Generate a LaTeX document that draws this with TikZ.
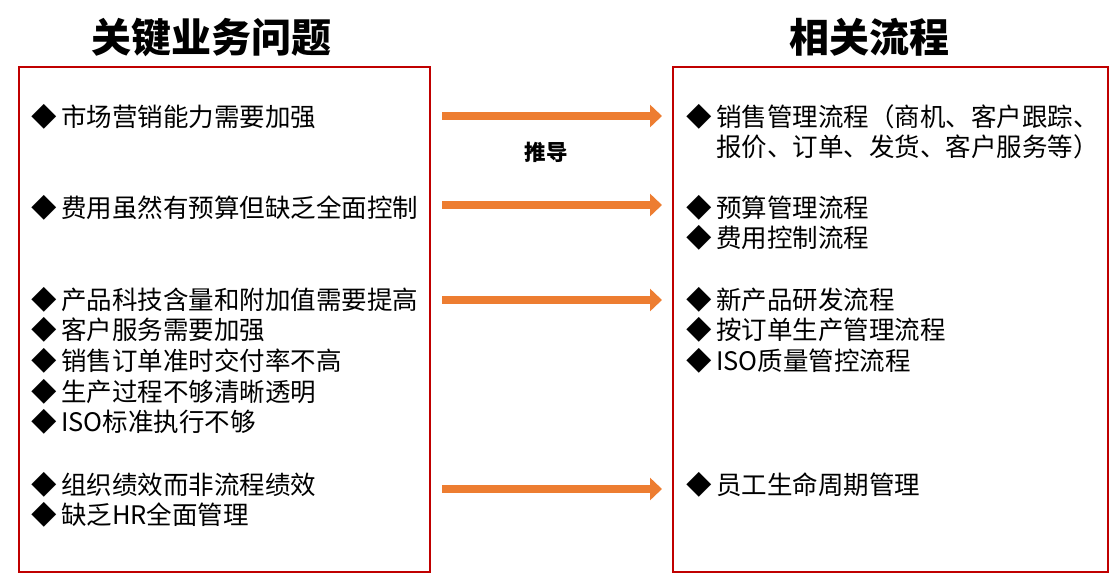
\documentclass[tikz,border=0pt]{standalone}
\usepackage{fontspec}
\setmainfont{Noto Sans CJK SC}
\usetikzlibrary{arrows.meta}

\definecolor{boxred}{RGB}{192,0,0}
\definecolor{arroworange}{RGB}{237,125,49}

\newcommand{\itm}[1]{\makebox[30pt][l]{◆}#1}
\newcommand{\hang}[1]{\makebox[30pt][l]{}#1}

\begin{document}
\begin{tikzpicture}[x=1pt,y=-1pt,
    title/.style={font=\fontsize{40}{44}\selectfont\bfseries, inner sep=0},
    items/.style={anchor=north west, align=left, inner sep=0,
        font=\fontsize{25.5}{30.6}\selectfont},
    derive/.style={-{Triangle[length=12pt,width=22pt]}, line width=8pt, arroworange}]
    \useasboundingbox (0,0) rectangle (1118,587);

    % titles
    \node[title] (tl) at (211,37) {关键业务问题};
    \node[title] (tr) at (869,37) {相关流程};

    % boxes
    \draw[boxred, line width=1.2pt] (19,67) rectangle (430,572);
    \draw[boxred, line width=1.2pt] (673,67) rectangle (1108,572);

    % problems
    \node[items] (p1) at (31,104) {\itm{市场营销能力需要加强}};
    \node[items] (p2) at (31,195) {\itm{费用虽然有预算但缺乏全面控制}};
    \node[items] (p3) at (31,287) {\itm{产品科技含量和附加值需要提高}\\
        \itm{客户服务需要加强}\\ \itm{销售订单准时交付率不高}\\
        \itm{生产过程不够清晰透明}\\ \itm{ISO标准执行不够}};
    \node[items] (p4) at (31,472) {\itm{组织绩效而非流程绩效}\\ \itm{缺乏HR全面管理}};

    % processes
    \node[items] (q1) at (686,104) {\itm{销售管理流程（商机、客户跟踪、}\\
        \hang{报价、订单、发货、客户服务等）}};
    \node[items] (q2) at (686,195) {\itm{预算管理流程}\\ \itm{费用控制流程}};
    \node[items] (q3) at (686,287) {\itm{新产品研发流程}\\ \itm{按订单生产管理流程}\\
        \itm{ISO质量管控流程}};
    \node[items] (q4) at (686,472) {\itm{员工生命周期管理}};

    % arrows
    \coordinate (a1) at (442,116);  \coordinate (b1) at (662,116);
    \coordinate (a2) at (442,205);  \coordinate (b2) at (662,205);
    \coordinate (a3) at (442,300);  \coordinate (b3) at (662,300);
    \coordinate (a4) at (442,489);  \coordinate (b4) at (662,489);
    \draw[derive] (a1)--(b1);
    \draw[derive] (a2)--(b2);
    \draw[derive] (a3)--(b3);
    \draw[derive] (a4)--(b4);

    \node[font=\fontsize{21.5}{24}\selectfont\bfseries, inner sep=0] (dv) at (546,152) {推导};
\end{tikzpicture}
\end{document}
